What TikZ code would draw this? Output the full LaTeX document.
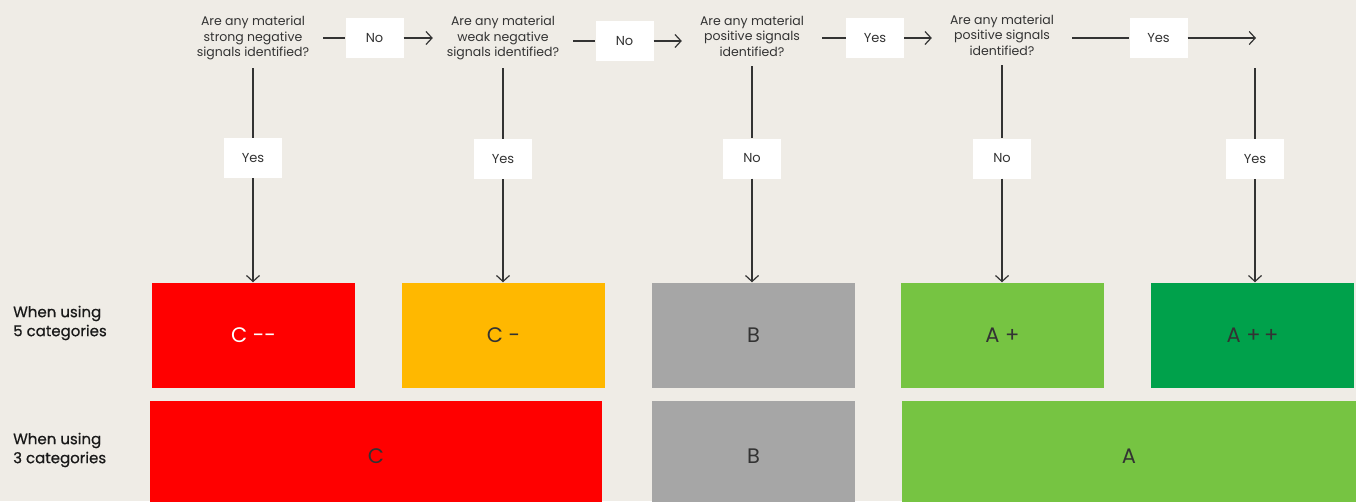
\documentclass[tikz,border=0pt]{standalone}
\usepackage{fontspec}
\setmainfont{Poppins}
\usetikzlibrary{arrows.meta, positioning}

\definecolor{fondo}{HTML}{EFECE6}
\definecolor{tinta}{HTML}{333333}
\definecolor{rojo}{HTML}{FF0000}
\definecolor{ambar}{HTML}{FFB800}
\definecolor{gris}{HTML}{A6A6A6}
\definecolor{verdeclaro}{HTML}{76C442}
\definecolor{verdeoscuro}{HTML}{00A14B}

\begin{document}
\begin{tikzpicture}[
        x=1pt, y=-1pt,
        question/.style={align=center, minimum width=140pt, minimum height=60pt, inner sep=0pt, font=\fontsize{12.5}{15.5}\selectfont, text=tinta},
        tag/.style={fill=white, minimum width=58pt, minimum height=40pt, inner sep=0pt, font=\fontsize{13}{15}\selectfont, text=tinta},
        cat/.style={minimum width=203pt, minimum height=105pt, inner sep=0pt, font=\fontsize{21}{24}\selectfont, text=tinta},
        side/.style={align=left, anchor=west, inner sep=0pt, font=\fontsize{15}{19}\selectfont\addfontfeatures{FakeBold=0.5}, text=black!90},
        link/.style={line width=1.2pt, draw=tinta},
        flecha/.style={link, -{Straight Barb[length=6pt, width=13pt, line width=1.2pt]}}
    ]
        \fill[fondo] (0,0) rectangle (1356,501);
        \useasboundingbox (0,0) rectangle (1356,501);
        % questions
        \node[question] (q1) at (253,38) {Are any material\\strong negative\\signals identified?};
        \node[question] (q2) at (503,38) {Are any material\\weak negative\\signals identified?};
        \node[question] (q3) at (752,36) {Are any material\\positive signals\\identified?};
        \node[question] (q4) at (1002,35) {Are any material\\positive signals\\identified?};
        \coordinate (fin) at (1256,38);
        \coordinate (top5) at (1255,68);
        % horizontal tags
        \node[tag] (h1) at (374.5,38) {No};
        \node[tag] (h2) at (624.5,41) {No};
        \node[tag] (h3) at (875,38) {Yes};
        \node[tag] (h4) at (1158.5,38) {Yes};
        % vertical tags
        \node[tag] (v1) at (253,158) {Yes};
        \node[tag] (v2) at (503,159) {Yes};
        \node[tag] (v3) at (752,158.5) {No};
        \node[tag] (v4) at (1002,158.5) {No};
        \node[tag] (v5) at (1255,159) {Yes};
        % 5 categories
        \node[cat, fill=rojo, text=white] (c1) at (253.5,335) {C -{}-};
        \node[cat, fill=ambar] (c2) at (503.5,335) {C -};
        \node[cat, fill=gris] (c3) at (753.5,335) {B};
        \node[cat, fill=verdeclaro] (c4) at (1002.5,335) {A +};
        \node[cat, fill=verdeoscuro] (c5) at (1252.5,335) {A +\,+};
        % 3 categories
        \node[cat, fill=rojo, minimum width=452pt, minimum height=110pt] (t1) at (376,456) {C};
        \node[cat, fill=gris, minimum height=110pt] (t2) at (753.5,456) {B};
        \node[cat, fill=verdeclaro, minimum width=454pt, minimum height=110pt] (t3) at (1129,456) {A};
        \node[side] (s5) at (13,323) {When using\\5 categories};
        \node[side] (s3) at (13,450) {When using\\3 categories};
        % connectors
        \draw[link] (q1.east |- h1) -- (h1.west);
        \draw[flecha] (h1.east) -- (q2.west |- h1);
        \draw[link] (q2.east |- h2) -- (h2.west);
        \draw[flecha] (h2.east) -- (q3.west |- h2);
        \draw[link] (q3.east |- h3) -- (h3.west);
        \draw[flecha] (h3.east) -- (q4.west |- h3);
        \draw[link] (q4.east |- h4) -- (h4.west);
        \draw[flecha] (h4.east) -- (fin);
        \draw[link] (q1.south) -- (v1.north);
        \draw[flecha] (v1.south) -- (v1 |- c1.north);
        \draw[link] (q2.south) -- (v2.north);
        \draw[flecha] (v2.south) -- (v2 |- c2.north);
        \draw[link] (q3.south) -- (v3.north);
        \draw[flecha] (v3.south) -- (v3 |- c3.north);
        \draw[link] (q4.south) -- (v4.north);
        \draw[flecha] (v4.south) -- (v4 |- c4.north);
        \draw[link] (top5) -- (v5.north);
        \draw[flecha] (v5.south) -- (v5 |- c5.north);
    \end{tikzpicture}
\end{document}
